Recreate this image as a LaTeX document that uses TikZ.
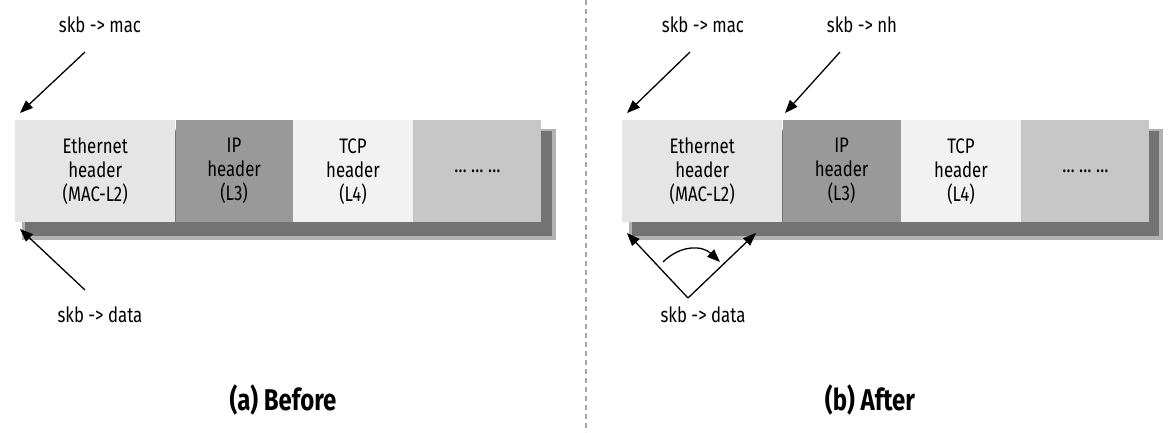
\documentclass[tikz,border=0pt]{standalone}
\usepackage{fontspec}
\setmainfont{Fira Sans}[FakeStretch=0.8]
\usetikzlibrary{arrows.meta}
\begin{document}
\begin{tikzpicture}[x=1pt,y=-1pt,
  seg/.style={draw=none,minimum height=102pt,inner sep=0pt,align=center,font=\fontsize{21}{24}\selectfont},
  lbl/.style={font=\fontsize{21}{24}\selectfont},
  captxt/.style={font=\bfseries\fontsize{30}{34}\selectfont},
  arr/.style={-{Triangle[length=13pt,width=10pt]},line width=1.3pt},
  shadow/.style={fill=black!55}]
\useasboundingbox (0,0) rectangle (1172,432);
\draw[gray!70,line width=1.5pt,dash pattern=on 5pt off 4pt] (586,0) -- (586,432);
% left panel
\fill[black!30] (22,129) rectangle (556,240);
\fill[shadow] (25,131) rectangle (552,236);
\node[seg,fill=black!10,minimum width=160pt,anchor=north west] (e1) at (15,120) {Ethernet\\header\\(MAC-L2)};
\node[seg,fill=black!40,minimum width=117pt,anchor=north west] (i1) at (e1.north east) {IP\\header\\(L3)};
\node[seg,fill=black!5,minimum width=120pt,anchor=north west] (t1) at (i1.north east) {TCP\\header\\(L4)};
\node[seg,fill=black!22,minimum width=128pt,anchor=north west] (d1) at (t1.north east) {\dots\ \dots\ \dots};
\node[lbl] (m1) at (100,25) {skb -> mac};
\node[lbl] (da1) at (100,315) {skb -> data};
\coordinate (m1s) at (85,52); \coordinate (m1e) at (20,113);
\coordinate (d1s) at (85,290); \coordinate (d1e) at (20,229);
\draw[arr] (m1s) -- (m1e);
\draw[arr] (d1s) -- (d1e);
\node[captxt] (ca) at (283,400) {(a) Before};
% right panel
\fill[black!30] (629,129) rectangle (1163,240);
\fill[shadow] (632,131) rectangle (1159,236);
\node[seg,fill=black!10,minimum width=160pt,anchor=north west] (e2) at (622,120) {Ethernet\\header\\(MAC-L2)};
\node[seg,fill=black!40,minimum width=118pt,anchor=north west] (i2) at (e2.north east) {IP\\header\\(L3)};
\node[seg,fill=black!5,minimum width=120pt,anchor=north west] (t2) at (i2.north east) {TCP\\header\\(L4)};
\node[seg,fill=black!22,minimum width=128pt,anchor=north west] (d2) at (t2.north east) {\dots\ \dots\ \dots};
\node[lbl] (m2) at (703,25) {skb -> mac};
\node[lbl] (n2) at (862,25) {skb -> nh};
\node[lbl] (da2) at (703,315) {skb -> data};
\coordinate (m2s) at (690,52); \coordinate (m2e) at (627,113);
\coordinate (n2s) at (840,52); \coordinate (n2e) at (785,113);
\draw[arr] (m2s) -- (m2e);
\draw[arr] (n2s) -- (n2e);
\coordinate (v) at (688,298);
\coordinate (vl) at (627,233); \coordinate (vr) at (756,233);
\draw[arr] (v) -- (vl);
\draw[arr] (v) -- (vr);
\coordinate (cs) at (663,262); \coordinate (ce) at (720,262);
\draw[arr] (cs) .. controls (680,245) and (702,245) .. (ce);
\node[captxt] (cb) at (870,400) {(b) After};
\end{tikzpicture}
\end{document}
